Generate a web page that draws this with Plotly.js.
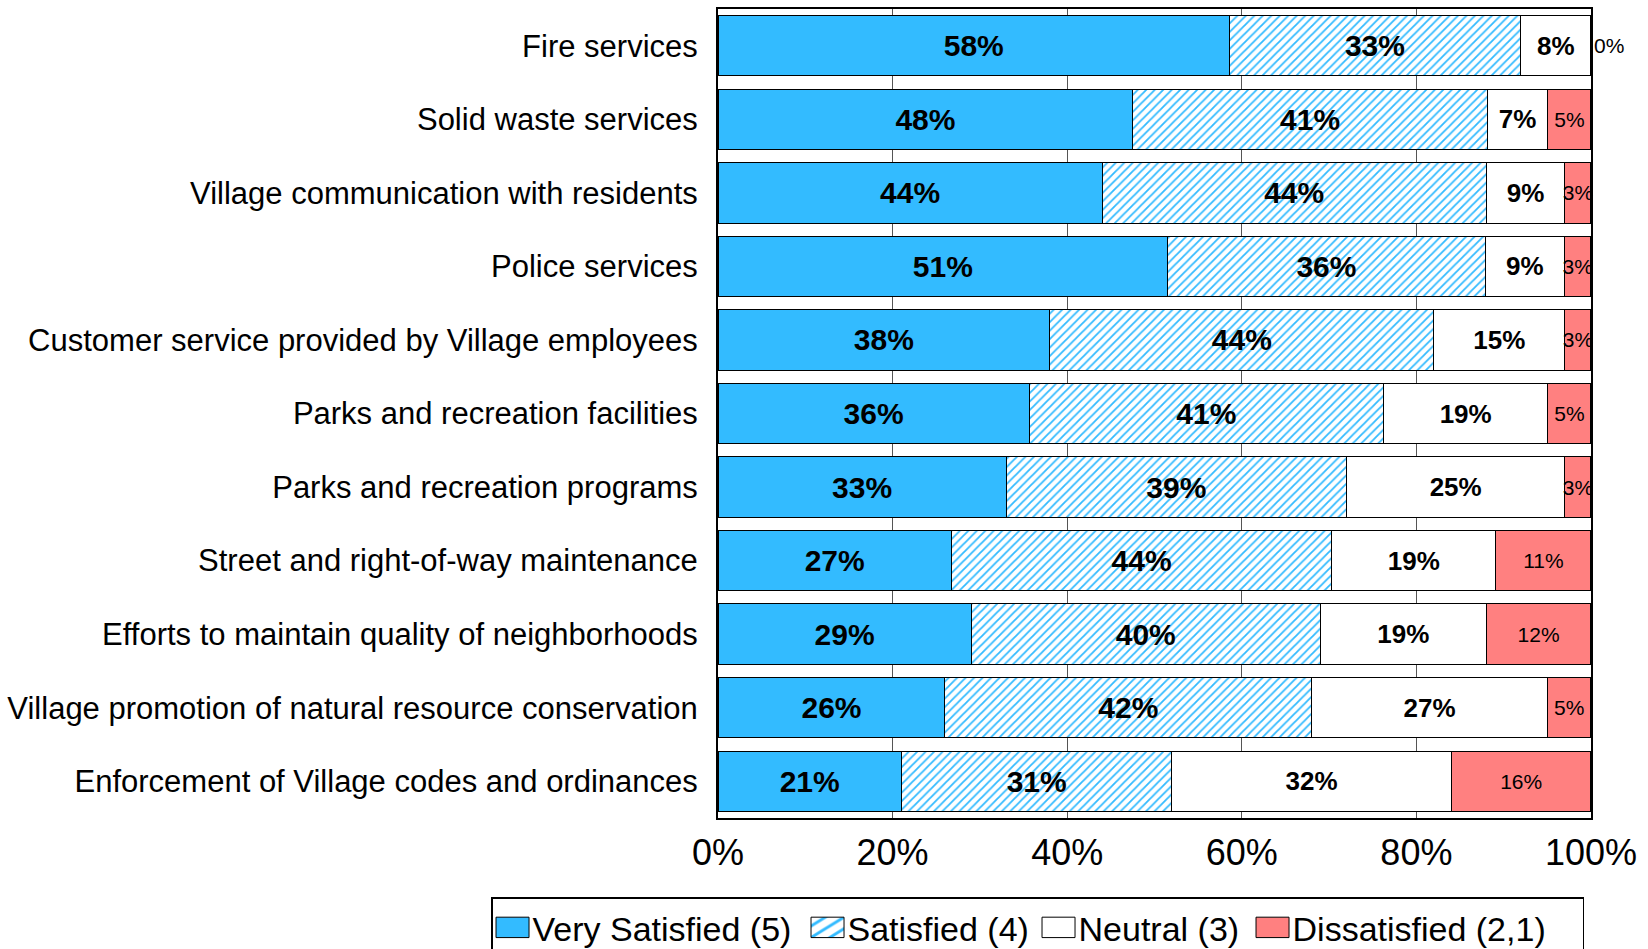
<!DOCTYPE html>
<html>
<head>
<meta charset="utf-8">
<script src="https://cdn.plot.ly/plotly-3.0.1.min.js"></script>
<style>html,body{margin:0;padding:0;background:#fff;}#chart{width:1648px;height:949px;}</style>
</head>
<body>
<div id="chart"></div>
<script>
const categories = [
  "Fire services",
  "Solid waste services",
  "Village communication with residents",
  "Police services",
  "Customer service provided by Village employees",
  "Parks and recreation facilities",
  "Parks and recreation programs",
  "Street and right-of-way maintenance",
  "Efforts to maintain quality of neighborhoods",
  "Village promotion of natural resource conservation",
  "Enforcement of Village codes and ordinances"
];
const verySatisfied = [58, 48, 44, 51, 38, 36, 33, 27, 29, 26, 21];
const satisfied     = [33, 41, 44, 36, 44, 41, 39, 44, 40, 42, 31];
const neutral       = [8, 7, 9, 9, 15, 19, 25, 19, 19, 27, 32];
const dissatisfied  = [0, 5, 3, 3, 3, 5, 3, 11, 12, 5, 16];
const seriesNames = ["Very Satisfied (5)", "Satisfied (4)", "Neutral (3)", "Dissatisfied (2,1)"];
const xTickLabels = ["0%", "20%", "40%", "60%", "80%", "100%"];
const xTickValues = [0, 20, 40, 60, 80, 100];

const FONT = "'Liberation Sans', Arial, 'DejaVu Sans', sans-serif";
const pct = a => a.map(v => v + "%");

function bar(vals, name, style) {
  return Object.assign({
    type: "bar",
    orientation: "h",
    y: categories,
    x: vals,
    name: name,
    text: pct(vals),
    texttemplate: "%{text}",
    textposition: "inside",
    insidetextanchor: "middle",
    textangle: 0,
    constraintext: "none",
    cliponaxis: true,
    hoverinfo: "skip"
  }, style);
}

const traces = [
  bar(verySatisfied, seriesNames[0], {
    legendwidth: 270,
    marker: { color: "#33BBFF", line: { color: "#000", width: 1 } },
    insidetextfont: { family: FONT, size: 30, color: "#000", weight: "bold" }
  }),
  bar(satisfied, seriesNames[1], {
    legendwidth: 186,
    marker: { color: "#ffffff", line: { color: "#000", width: 1 },
      pattern: { shape: "/", fgcolor: "#33BBFF", bgcolor: "#ffffff", size: 6, solidity: 0.3 } },
    insidetextfont: { family: FONT, size: 30, color: "#000", weight: "bold" }
  }),
  bar(neutral, seriesNames[2], {
    legendwidth: 169,
    marker: { color: "#ffffff", line: { color: "#000", width: 1 } },
    insidetextfont: { family: FONT, size: 26, color: "#000", weight: "bold" }
  }),
  bar(dissatisfied, seriesNames[3], {
    legendwidth: 285,
    cliponaxis: false,
    marker: { color: "#FF8080", line: { color: "#000", width: 1 } },
    textposition: dissatisfied.map(v => v === 0 ? "outside" : "inside"),
    insidetextfont: { family: FONT, size: 21, color: "#000" },
    outsidetextfont: { family: FONT, size: 21, color: "#000" }
  })
];

const layout = {
  width: 1648,
  height: 949,
  barmode: "stack",
  barnorm: "percent",
  bargap: 0.18,
  paper_bgcolor: "#ffffff",
  plot_bgcolor: "#ffffff",
  margin: { l: 718, r: 57, t: 9, b: 131, pad: 0, autoexpand: false },
  font: { family: FONT, color: "#000" },
  xaxis: {
    range: [0, 100.001],
    tickmode: "array",
    tickvals: xTickValues,
    ticktext: xTickLabels,
    showgrid: true, gridcolor: "#555", gridwidth: 1, zeroline: false,
    showline: true, mirror: true, linecolor: "#000", linewidth: 2,
    ticks: "", ticklabelstandoff: 2,
    tickfont: { family: FONT, size: 36, color: "#000" }, fixedrange: true
  },
  yaxis: {
    autorange: "reversed", showline: true, mirror: true, linecolor: "#000", linewidth: 2,
    ticks: "", ticklabelstandoff: 12,
    tickfont: { family: FONT, size: 31, color: "#000" }, fixedrange: true
  },
  showlegend: true,
  legend: {
    orientation: "h", x: -0.26, xanchor: "left", y: -0.098, yanchor: "top",
    bordercolor: "#000", borderwidth: 1.5, bgcolor: "#fff", itemwidth: 30,
    font: { family: FONT, size: 34, color: "#000" }, traceorder: "normal"
  }
};

Plotly.newPlot("chart", traces, layout, { displayModeBar: false, staticPlot: true }).then(() => {
  // enlarge legend swatches to the wide boxes of the original, keeping Plotly's own placement
  document.querySelectorAll(".legend .legendpoints path").forEach(p => {
    const t = p.getAttribute("transform") || "";
    p.setAttribute("transform", (t + " scale(2.75,1.7)").trim());
    p.style.vectorEffect = "non-scaling-stroke";
  });
});
</script>
</body>
</html>
